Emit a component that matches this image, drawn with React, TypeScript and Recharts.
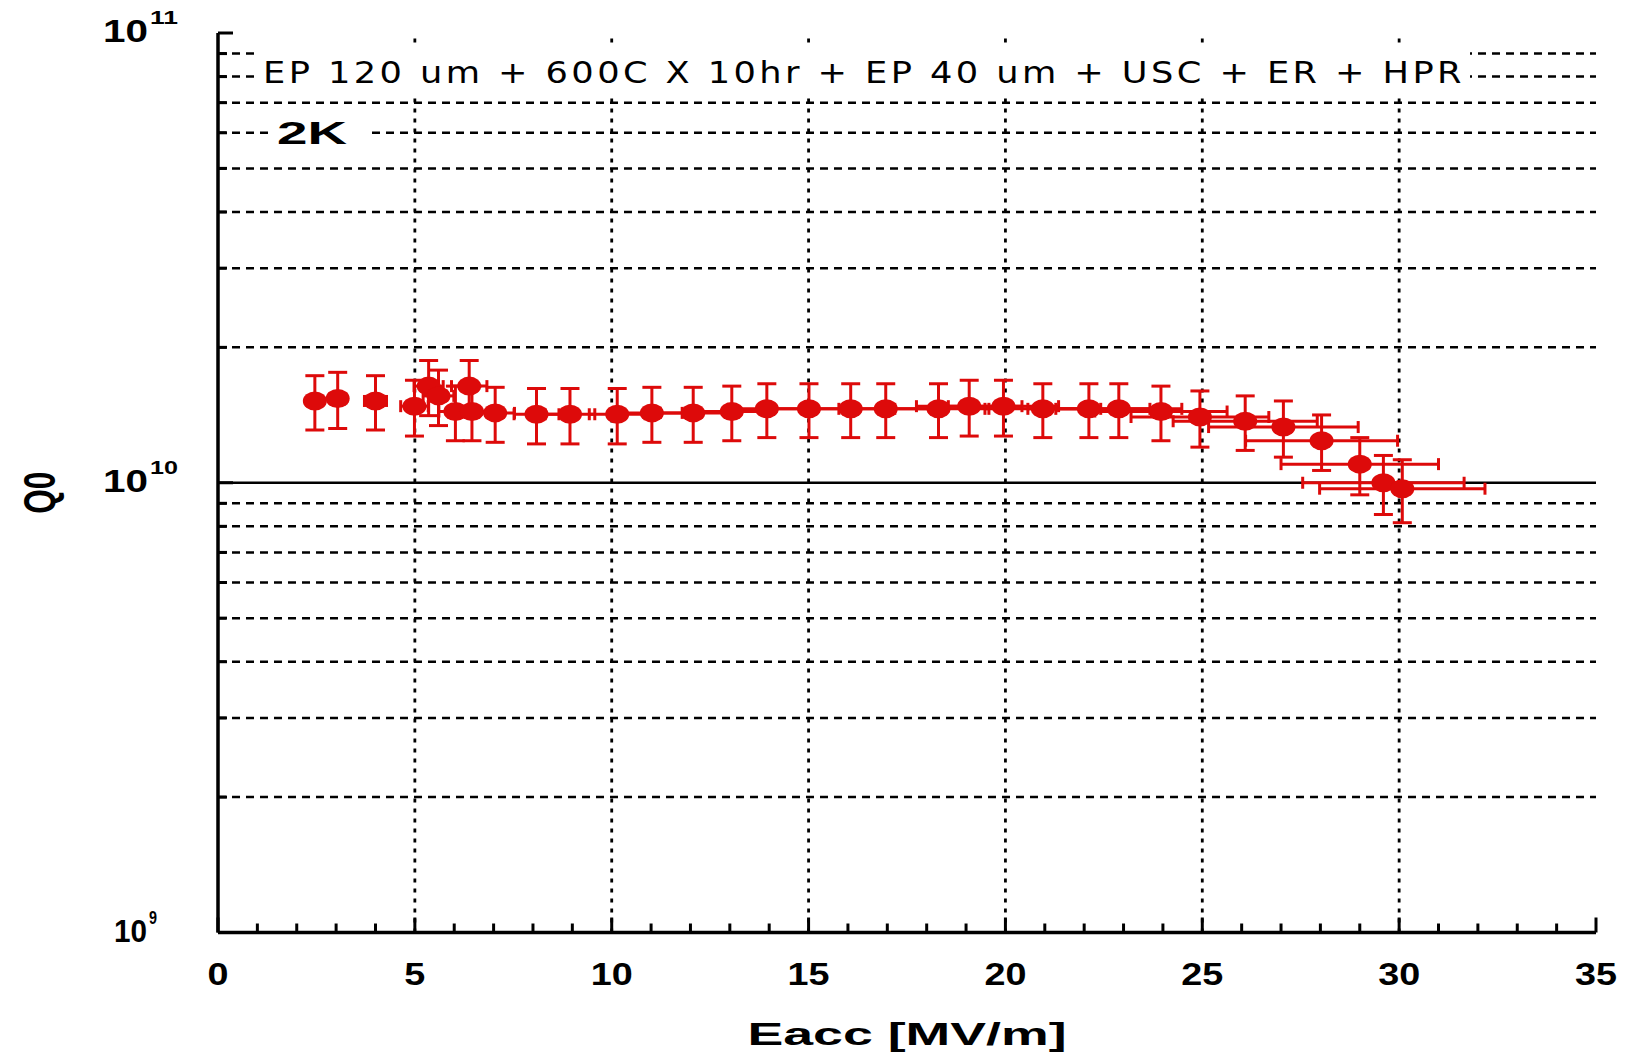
import React from "react";
import { ScatterChart, Scatter, XAxis, YAxis, ErrorBar, ReferenceLine } from "recharts";

// Eacc [MV/m]
const eacc = [
  2.46, 3.04, 4.0, 4.99, 5.35, 5.6, 6.03, 6.38, 6.45, 7.04, 8.09, 8.94, 10.14, 11.02, 12.07, 13.05, 13.94,
  15.01, 16.07, 16.96, 18.3, 19.08, 19.95, 20.95, 22.12, 22.88, 23.95, 24.94, 26.09, 27.06, 28.03, 29.0, 29.6, 30.08,
];
const eaccErr = [
  0.17, 0.21, 0.28, 0.35, 0.37, 0.39, 0.42, 0.45, 0.45, 0.49, 0.57, 0.63, 0.71, 0.77, 0.84, 0.91, 0.98,
  1.05, 1.12, 1.19, 1.28, 1.34, 1.4, 1.47, 1.55, 1.6, 1.68, 1.75, 1.83, 1.9, 1.93, 2.0, 2.05, 2.1,
];
const q0 = [
  1.52e10, 1.54e10, 1.52e10, 1.48e10, 1.64e10, 1.56e10, 1.44e10, 1.64e10, 1.44e10, 1.43e10, 1.42e10, 1.42e10,
  1.42e10, 1.43e10, 1.43e10, 1.44e10, 1.46e10, 1.46e10, 1.46e10, 1.46e10, 1.46e10, 1.48e10, 1.48e10, 1.46e10,
  1.46e10, 1.46e10, 1.44e10, 1.4e10, 1.37e10, 1.33e10, 1.24e10, 1.1e10, 1.0e10, 0.97e10,
];
const q0Err = [
  0.21e10, 0.22e10, 0.21e10, 0.21e10, 0.23e10, 0.22e10, 0.2e10, 0.23e10, 0.2e10, 0.2e10, 0.2e10, 0.2e10,
  0.2e10, 0.2e10, 0.2e10, 0.2e10, 0.2e10, 0.2e10, 0.2e10, 0.2e10, 0.2e10, 0.21e10, 0.21e10, 0.2e10,
  0.2e10, 0.2e10, 0.2e10, 0.2e10, 0.19e10, 0.19e10, 0.175e10, 0.16e10, 0.15e10, 0.155e10,
];

const xTicks = [
  0, 1, 2, 3, 4, 5, 6, 7, 8, 9, 10, 11, 12, 13, 14, 15, 16, 17, 18, 19, 20, 21, 22, 23, 24, 25, 26, 27, 28, 29, 30,
  31, 32, 33, 34, 35,
];
const xMajor = [0, 5, 10, 15, 20, 25, 30, 35];
const xGrid = [5, 10, 15, 20, 25, 30];
const yTicks = [
  1e9, 2e9, 3e9, 4e9, 5e9, 6e9, 7e9, 8e9, 9e9, 1e10, 2e10, 3e10, 4e10, 5e10, 6e10, 7e10, 8e10, 9e10, 1e11,
];
const yDecades = [1e9, 1e10, 1e11];
const yGrid = [2e9, 3e9, 4e9, 5e9, 6e9, 7e9, 8e9, 9e9, 2e10, 3e10, 4e10, 5e10, 6e10, 7e10, 8e10, 9e10];

const title = "EP 120 um + 600C X 10hr + EP 40 um + USC + ER + HPR";
const tempLabel = "2K";

const RED = "#dd0a0a";
const FONT = "'Liberation Sans', Arial, sans-serif";

const points = eacc.map((e, i) => ({ eacc: e, q0: q0[i], ex: eaccErr[i], ey: q0Err[i] }));

function BottomTick({ x, y, payload }: any) {
  const major = xMajor.includes(payload.value);
  const len = major ? 15 : 9;
  const label = String(payload.value);
  return (
    <g>
      <line x1={x} y1={y} x2={x} y2={y - len} stroke="#000" strokeWidth={3} />
      {major && (
        <text
          x={x}
          y={y + 52}
          textAnchor="middle"
          fontFamily={FONT}
          fontWeight="bold"
          fontSize={31}
          fill="#000"
          textLength={label.length * 21}
          lengthAdjust="spacingAndGlyphs"
        >
          {label}
        </text>
      )}
    </g>
  );
}

function TopTick({ x, y, payload }: any) {
  const len = xMajor.includes(payload.value) ? 15 : 9;
  return <line x1={x} y1={y} x2={x} y2={y + len} stroke="#000" strokeWidth={3} />;
}

function LeftTick({ x, y, payload }: any) {
  const v = payload.value;
  const decade = yDecades.includes(v);
  const len = decade ? 15 : 9;
  const exp = String(Math.round(Math.log10(v)));
  const small = exp.length === 1;
  return (
    <g>
      <line x1={x} y1={y} x2={x + len} y2={y} stroke="#000" strokeWidth={3} />
      {decade && (
        <g fontFamily={FONT} fontWeight="bold" fill="#000">
          <text
            x={small ? x - 71 : x - 70}
            y={y + 9}
            textAnchor="end"
            fontSize={31}
            textLength={small ? 33 : 45}
            lengthAdjust="spacingAndGlyphs"
          >
            10
          </text>
          <text
            x={small ? x - 69 : x - 68}
            y={y - 9}
            fontSize={19}
            textLength={small ? 8 : 28}
            lengthAdjust="spacingAndGlyphs"
          >
            {exp}
          </text>
        </g>
      )}
    </g>
  );
}

function RightTick({ x, y, payload }: any) {
  const len = yDecades.includes(payload.value) ? 15 : 9;
  return <line x1={x} y1={y} x2={x - len} y2={y} stroke="#000" strokeWidth={3} />;
}

function Marker(props: any) {
  return <ellipse cx={props.cx} cy={props.cy} rx={12} ry={9.5} fill={RED} />;
}

export default function App() {
  return (
    <div style={{ position: "absolute", left: 0, top: 0, width: 1630, height: 1057, background: "#fff" }}>
      <ScatterChart width={1630} height={1057} margin={{ top: 33, right: 34, bottom: 0, left: 0 }}>
        <XAxis
          xAxisId="x"
          dataKey="eacc"
          type="number"
          domain={[0, 35]}
          allowDataOverflow
          ticks={xTicks}
          interval={0}
          height={124.5}
          tickSize={0}
          tickMargin={0}
          tickLine={false}
          axisLine={{ stroke: "#000", strokeWidth: 3.5 }}
          tick={<BottomTick />}
          label={{
            content: (p: any) => {
              const vb = p.viewBox;
              return (
                <text
                  x={vb.x + vb.width / 2}
                  y={vb.y + vb.height - 12}
                  textAnchor="middle"
                  fontFamily={FONT}
                  fontWeight="bold"
                  fontSize={32}
                  fill="#000"
                  textLength={319}
                  lengthAdjust="spacingAndGlyphs"
                >
                  Eacc [MV/m]
                </text>
              );
            },
          }}
        />
        <XAxis
          xAxisId="top"
          orientation="top"
          type="number"
          domain={[0, 35]}
          allowDataOverflow
          ticks={xTicks}
          interval={0}
          height={0}
          tickSize={0}
          tickMargin={0}
          tickLine={false}
          axisLine={{ stroke: "#000", strokeWidth: 3.5 }}
          tick={<TopTick />}
        />
        <YAxis
          yAxisId="y"
          dataKey="q0"
          type="number"
          scale="log"
          domain={[1e9, 1e11]}
          allowDataOverflow
          ticks={yTicks}
          interval={0}
          width={218}
          tickSize={0}
          tickMargin={0}
          tickLine={false}
          axisLine={{ stroke: "#000", strokeWidth: 3.5 }}
          tick={<LeftTick />}
          label={{
            content: (p: any) => {
              const vb = p.viewBox;
              const cx = 55;
              const cy = vb.y + vb.height / 2 + 10;
              return (
                <text
                  x={cx}
                  y={cy}
                  transform={`rotate(-90 ${cx} ${cy})`}
                  textAnchor="middle"
                  fontFamily={FONT}
                  fontWeight="bold"
                  fontSize={44}
                  fill="#000"
                  textLength={42}
                  lengthAdjust="spacingAndGlyphs"
                >
                  Q0
                </text>
              );
            },
          }}
        />
        <YAxis
          yAxisId="right"
          orientation="right"
          type="number"
          scale="log"
          domain={[1e9, 1e11]}
          allowDataOverflow
          ticks={yTicks}
          interval={0}
          width={0}
          tickSize={0}
          tickMargin={0}
          tickLine={false}
          axisLine={{ stroke: "#000", strokeWidth: 3.5 }}
          tick={<RightTick />}
        />

        {xGrid.map((v) => (
          <ReferenceLine
            key={`vx${v}`}
            xAxisId="x"
            yAxisId="y"
            x={v}
            stroke="#000"
            strokeWidth={2.8}
            strokeDasharray="4 6"
          />
        ))}
        {yGrid.map((v) => (
          <ReferenceLine
            key={`hy${v}`}
            xAxisId="x"
            yAxisId="y"
            y={v}
            stroke="#000"
            strokeWidth={2.5}
            strokeDasharray="8 6"
          />
        ))}
        <ReferenceLine xAxisId="x" yAxisId="y" y={1e10} stroke="#000" strokeWidth={2.7} />

        <Scatter
          xAxisId="x"
          yAxisId="y"
          data={points}
          fill={RED}
          shape={<Marker />}
          isAnimationActive={false}
        >
          <ErrorBar dataKey="ey" direction="y" width={9.5} strokeWidth={3} stroke={RED} isAnimationActive={false} />
          <ErrorBar dataKey="ex" direction="x" width={6} strokeWidth={3} stroke={RED} isAnimationActive={false} />
        </Scatter>
      </ScatterChart>

      <svg
        width={1630}
        height={1057}
        style={{ position: "absolute", left: 0, top: 0, pointerEvents: "none" }}
      >
        <rect x={259} y={47} width={1211} height={47} fill="#fff" />
        <text
          x={263}
          y={83}
          fontFamily="'DejaVu Sans', 'Liberation Sans', sans-serif"
          fontSize={31}
          letterSpacing={3}
          fill="#000"
          textLength={1202}
          lengthAdjust="spacingAndGlyphs"
        >
          {title}
        </text>
        <rect x={268} y={118} width={98} height={32} fill="#fff" />
        <text
          x={277}
          y={144}
          fontFamily={FONT}
          fontWeight="bold"
          fontSize={31}
          fill="#000"
          textLength={70}
          lengthAdjust="spacingAndGlyphs"
        >
          {tempLabel}
        </text>
      </svg>
    </div>
  );
}
